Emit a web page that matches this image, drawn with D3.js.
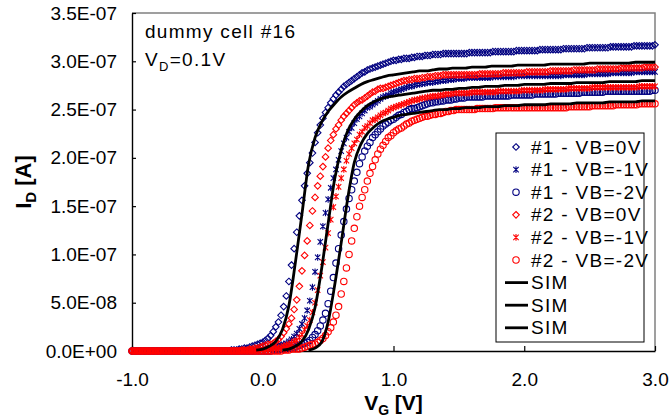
<!DOCTYPE html>
<html>
<head>
<meta charset="utf-8">
<script src="https://cdn.jsdelivr.net/npm/d3@7"></script>
<style>
body { margin: 0; background: #fff; }
svg { display: block; font-family: Arial, "Liberation Sans", sans-serif; }
</style>
</head>
<body>
<script>
// gate sweep of the measured points (V)
const vgStart = -1.0
const vgStep = 0.02
// the SIM curves come on a coarser sweep, each starting where it leaves zero
const simStarts = [-0.05, 0.15, 0.35]
const simStep = 0.05

// drain current, in units of 1e-7 A
const dev1Vb0 = [
  0,0,0,0,0,0,0,0,0,0, 0,0,0,0,0,0,0,0,0,0, 0,0,0,0,0,0,0,0,0,0,
  0,0,0,0,0,0,0,0,.01,.01,
  .01,.02,.02,.03,.03,.04,.05,.06,.07,.08,
  .09,.11,.13,.16,.20,.25,.30,.37,.46,.57,
  .72,.89,1.06,1.23,1.40,1.56,1.71,1.84,1.95,2.05,
  2.16,2.26,2.34,2.41,2.47,2.52,2.57,2.61,2.65,2.68,
  2.71,2.74,2.76,2.78,2.80,2.82,2.84,2.86,2.88,2.89,
  2.91,2.92,2.93,2.94,2.95,2.96,2.97,2.98,2.99,3.00,
  3.01,3.01,3.02,3.02,3.03,3.03,3.03,3.04,3.04,3.05,
  3.05,3.05,3.06,3.06,3.06,3.07,3.07,3.07,3.07,3.08,
  3.08,3.08,3.08,3.08,3.08,3.08,3.08,3.08,3.08,3.09,
  3.09,3.09,3.09,3.09,3.09,3.09,3.09,3.09,3.10,3.10,
  3.10,3.10,3.10,3.10,3.10,3.10,3.10,3.11,3.11,3.11,
  3.11,3.11,3.11,3.11,3.11,3.11,3.12,3.12,3.12,3.12,
  3.12,3.12,3.12,3.12,3.12,3.13,3.13,3.13,3.13,3.13,
  3.13,3.13,3.13,3.13,3.14,3.14,3.14,3.14,3.14,3.14,
  3.14,3.14,3.14,3.15,3.15,3.15,3.15,3.15,3.15,3.15,
  3.15,3.15,3.16,3.16,3.16,3.16,3.16,3.16,3.16,3.16,
  3.17
]
const dev1Vb1 = [
  0,0,0,0,0,0,0,0,0,0, 0,0,0,0,0,0,0,0,0,0, 0,0,0,0,0,0,0,0,0,0, 0,0,0,0,0,0,0,0,0,0,
  0,0,0,0,0,0,0,.01,.01,.01,
  .02,.02,.03,.03,.04,.05,.06,.06,.07,.08,
  .10,.12,.15,.18,.23,.28,.34,.42,.52,.66,
  .82,.97,1.13,1.29,1.43,1.57,1.69,1.79,1.88,1.98,
  2.07,2.15,2.21,2.27,2.31,2.36,2.40,2.43,2.46,2.49,
  2.52,2.53,2.55,2.57,2.59,2.61,2.63,2.64,2.65,2.67,
  2.68,2.69,2.70,2.71,2.72,2.73,2.74,2.74,2.75,2.76,
  2.76,2.77,2.77,2.78,2.78,2.78,2.79,2.79,2.80,2.80,
  2.80,2.81,2.81,2.81,2.82,2.82,2.82,2.82,2.83,2.83,
  2.83,2.83,2.83,2.83,2.83,2.83,2.83,2.83,2.84,2.84,
  2.84,2.84,2.84,2.84,2.84,2.84,2.84,2.85,2.85,2.85,
  2.85,2.85,2.85,2.85,2.85,2.85,2.85,2.85,2.85,2.85,
  2.85,2.85,2.85,2.85,2.85,2.86,2.86,2.86,2.86,2.86,
  2.86,2.86,2.86,2.86,2.87,2.87,2.87,2.87,2.87,2.87,
  2.87,2.87,2.87,2.88,2.88,2.88,2.88,2.88,2.88,2.88,
  2.88,2.88,2.89,2.89,2.89,2.89,2.89,2.89,2.89,2.89,
  2.89
]
const dev1Vb2 = [
  0,0,0,0,0,0,0,0,0,0, 0,0,0,0,0,0,0,0,0,0, 0,0,0,0,0,0,0,0,0,0, 0,0,0,0,0,0,0,0,0,0,
  0,0,0,0,0,0,0,0,0,0,
  0,0,0,0,.01,.01,.01,.02,.02,.03,
  .03,.03,.04,.05,.06,.07,.08,.09,.11,.14,
  .17,.21,.26,.32,.39,.49,.62,.76,.91,1.06,
  1.20,1.34,1.47,1.58,1.67,1.76,1.85,1.94,2.01,2.07,
  2.12,2.16,2.21,2.24,2.27,2.30,2.33,2.35,2.37,2.39,
  2.40,2.42,2.44,2.45,2.47,2.48,2.50,2.51,2.51,2.52,
  2.53,2.54,2.55,2.56,2.57,2.57,2.58,2.58,2.59,2.59,
  2.60,2.60,2.60,2.61,2.61,2.62,2.62,2.62,2.63,2.63,
  2.63,2.63,2.63,2.63,2.63,2.64,2.64,2.64,2.64,2.64,
  2.64,2.64,2.64,2.64,2.64,2.65,2.65,2.65,2.65,2.65,
  2.65,2.65,2.65,2.65,2.66,2.66,2.66,2.66,2.66,2.66,
  2.66,2.66,2.66,2.67,2.67,2.67,2.67,2.67,2.67,2.67,
  2.67,2.67,2.68,2.68,2.68,2.68,2.68,2.68,2.68,2.68,
  2.68,2.69,2.69,2.69,2.69,2.69,2.69,2.69,2.69,2.69,
  2.69,2.69,2.69,2.69,2.69,2.69,2.69,2.69,2.69,2.70,
  2.70
]
const dev2Vb0 = [
  0,0,0,0,0,0,0,0,0,0, 0,0,0,0,0,0,0,0,0,0, 0,0,0,0,0,0,0,0,0,0, 0,0,0,0,0,0,0,0,0,0,
  0,0,.01,.01,.01,.02,.02,.03,.03,.04,
  .05,.06,.07,.07,.08,.10,.12,.15,.19,.23,
  .28,.34,.43,.53,.67,.83,.99,1.14,1.30,1.45,
  1.59,1.71,1.81,1.91,2.01,2.10,2.18,2.24,2.30,2.34,
  2.39,2.43,2.46,2.49,2.52,2.55,2.57,2.59,2.60,2.62,
  2.64,2.66,2.68,2.69,2.71,2.72,2.72,2.73,2.74,2.75,
  2.76,2.77,2.78,2.79,2.80,2.80,2.81,2.81,2.82,2.82,
  2.82,2.83,2.83,2.84,2.84,2.84,2.85,2.85,2.85,2.86,
  2.86,2.86,2.86,2.86,2.86,2.86,2.86,2.86,2.86,2.86,
  2.86,2.86,2.86,2.87,2.87,2.87,2.87,2.87,2.87,2.87,
  2.87,2.87,2.88,2.88,2.88,2.88,2.88,2.88,2.88,2.88,
  2.88,2.89,2.89,2.89,2.89,2.89,2.89,2.89,2.89,2.89,
  2.90,2.90,2.90,2.90,2.90,2.90,2.90,2.90,2.90,2.91,
  2.91,2.91,2.91,2.91,2.91,2.91,2.91,2.91,2.92,2.92,
  2.92,2.92,2.92,2.92,2.92,2.92,2.92,2.93,2.93,2.93,
  2.93,2.93,2.93,2.93,2.93,2.93,2.94,2.94,2.94,2.94,
  2.94
]
const dev2Vb1 = [
  0,0,0,0,0,0,0,0,0,0, 0,0,0,0,0,0,0,0,0,0, 0,0,0,0,0,0,0,0,0,0, 0,0,0,0,0,0,0,0,0,0,
  0,0,0,0,0,0,0,0,0,.01,
  .01,.01,.02,.02,.03,.03,.03,.04,.05,.06,
  .07,.08,.10,.11,.14,.17,.22,.26,.32,.40,
  .50,.63,.78,.92,1.07,1.22,1.36,1.49,1.60,1.70,
  1.79,1.88,1.97,2.04,2.10,2.15,2.19,2.24,2.27,2.31,
  2.33,2.36,2.39,2.40,2.42,2.44,2.46,2.47,2.49,2.51,
  2.52,2.53,2.54,2.55,2.56,2.57,2.58,2.59,2.60,2.60,
  2.61,2.62,2.62,2.63,2.63,2.64,2.64,2.64,2.65,2.65,
  2.66,2.66,2.66,2.67,2.67,2.67,2.67,2.67,2.67,2.67,
  2.68,2.68,2.68,2.68,2.68,2.68,2.68,2.68,2.68,2.68,
  2.69,2.69,2.69,2.69,2.69,2.69,2.69,2.69,2.69,2.70,
  2.70,2.70,2.70,2.70,2.70,2.70,2.70,2.70,2.71,2.71,
  2.71,2.71,2.71,2.71,2.71,2.71,2.71,2.72,2.72,2.72,
  2.72,2.72,2.72,2.72,2.72,2.72,2.73,2.73,2.73,2.73,
  2.73,2.73,2.73,2.73,2.73,2.73,2.73,2.73,2.73,2.73,
  2.73,2.73,2.73,2.73,2.74,2.74,2.74,2.74,2.74,2.74,
  2.74
]
const dev2Vb2 = [
  0,0,0,0,0,0,0,0,0,0, 0,0,0,0,0,0,0,0,0,0, 0,0,0,0,0,0,0,0,0,0, 0,0,0,0,0,0,0,0,0,0,
  0,0,0,0,0,0,0,0,0,0,
  0,0,0,0,0,0,0,0,.01,.01,
  .01,.02,.02,.02,.02,.03,.04,.05,.06,.07,
  .07,.09,.11,.13,.16,.20,.24,.30,.37,.46,
  .59,.72,.86,1.00,1.14,1.27,1.39,1.50,1.59,1.67,
  1.76,1.84,1.91,1.98,2.04,2.09,2.13,2.17,2.21,2.23,
  2.26,2.28,2.30,2.31,2.33,2.35,2.36,2.38,2.39,2.40,
  2.41,2.42,2.43,2.43,2.44,2.45,2.45,2.46,2.46,2.47,
  2.48,2.48,2.49,2.49,2.50,2.50,2.50,2.50,2.50,2.50,
  2.50,2.50,2.51,2.51,2.51,2.51,2.51,2.51,2.51,2.52,
  2.52,2.52,2.52,2.52,2.52,2.52,2.52,2.52,2.52,2.52,
  2.52,2.52,2.52,2.52,2.52,2.52,2.52,2.52,2.52,2.52,
  2.52,2.52,2.52,2.52,2.52,2.52,2.52,2.53,2.53,2.53,
  2.53,2.53,2.53,2.53,2.53,2.53,2.54,2.54,2.54,2.54,
  2.54,2.54,2.54,2.54,2.54,2.55,2.55,2.55,2.55,2.55,
  2.55,2.55,2.55,2.55,2.56,2.56,2.56,2.56,2.56,2.56,
  2.56
]

// simulated curves, same units, on the 0.05 V sweep
const sim1 = [
  .01,
  .02,.05,.10,.22,.47,.92,1.42,1.93,2.21,2.37,
  2.48,2.56,2.63,2.68,2.72,2.76,2.79,2.81,2.83,2.85,
  2.86,2.87,2.88,2.89,2.90,2.90,2.91,2.92,2.92,2.93,
  2.93,2.93,2.94,2.94,2.94,2.95,2.95,2.95,2.95,2.96,
  2.96,2.96,2.96,2.96,2.97,2.97,2.97,2.97,2.97,2.97,
  2.98,2.98,2.98,2.98,2.98,2.98,2.98,2.99,2.99,2.99,
  2.99
]
const sim2 = [
  .01,.02,.05,.10,.22,.45,.85,
  1.32,1.78,2.08,2.28,2.40,2.48,2.54,2.58,2.61,2.63,
  2.64,2.65,2.66,2.67,2.68,2.69,2.70,2.70,2.71,2.71,
  2.72,2.72,2.73,2.73,2.74,2.74,2.74,2.75,2.75,2.75,
  2.76,2.76,2.76,2.76,2.77,2.77,2.77,2.77,2.78,2.78,
  2.78,2.78,2.78,2.79,2.79,2.79,2.79,2.79,2.80,2.80,
  2.80
]
const sim3 = [
  .01,.03,.09,
  .30,.68,1.12,1.58,1.95,2.14,2.25,2.32,2.37,2.40,
  2.42,2.44,2.45,2.46,2.47,2.48,2.49,2.50,2.50,2.51,
  2.51,2.52,2.52,2.52,2.53,2.53,2.53,2.54,2.54,2.54,
  2.55,2.55,2.55,2.55,2.56,2.56,2.56,2.56,2.57,2.57,
  2.57,2.57,2.57,2.58,2.58,2.58,2.58,2.58,2.59,2.59,
  2.59
]

const measuredNames = ["#1 - VB=0V", "#1 - VB=-1V", "#1 - VB=-2V", "#2 - VB=0V", "#2 - VB=-1V", "#2 - VB=-2V"]
const simNames = ["SIM", "SIM", "SIM"]

const xTicks = [-1, 0, 1, 2, 3]
const xTickLabels = ["-1.0", "0.0", "1.0", "2.0", "3.0"]
const yTicks = [0, 0.5, 1, 1.5, 2, 2.5, 3, 3.5]
const yTickLabels = ["0.0E+00", "5.0E-08", "1.0E-07", "1.5E-07", "2.0E-07", "2.5E-07", "3.0E-07", "3.5E-07"]

const width = 669
const height = 418
const plot = {left: 132, right: 655, top: 13, bottom: 351}

const blue = "#000080"
const red = "#ff0000"

const markerPath = {
    diamond: "M0,-3.3L3.3,0L0,3.3L-3.3,0Z",
    star: "M-2.7,-2.7L2.7,2.7M-2.7,2.7L2.7,-2.7M0,-3.4V3.4",
    circle: d3.symbol(d3.symbolCircle, Math.PI * 3.2 * 3.2)()
}

const measured = [
    {values: dev1Vb0, color: blue, shape: "diamond"},
    {values: dev1Vb1, color: blue, shape: "star"},
    {values: dev1Vb2, color: blue, shape: "circle"},
    {values: dev2Vb0, color: red, shape: "diamond"},
    {values: dev2Vb1, color: red, shape: "star"},
    {values: dev2Vb2, color: red, shape: "circle"}
].map((s, i) => ({...s, name: measuredNames[i]}))
const sims = [sim1, sim2, sim3]

const x = d3.scaleLinear().domain([-1, 3]).range([plot.left, plot.right])
const y = d3.scaleLinear().domain([0, 3.5]).range([plot.bottom, plot.top])

const svg = d3.select("body").append("svg")
    .attr("width", width)
    .attr("height", height)

// frame: grey top and right edges
svg.append("path")
    .attr("d", `M${plot.left},${plot.top}H${plot.right}V${plot.bottom}`)
    .attr("fill", "none")
    .attr("stroke", "#808080")
    .attr("stroke-width", 1.5)

const xAxis = svg.append("g")
    .attr("transform", `translate(0,${plot.bottom})`)
    .call(d3.axisBottom(x).tickValues(xTicks).tickFormat((d, i) => xTickLabels[i])
        .tickSizeInner(-5).tickSizeOuter(0).tickPadding(22))
const yAxis = svg.append("g")
    .attr("transform", `translate(${plot.left},0)`)
    .call(d3.axisLeft(y).tickValues(yTicks).tickFormat((d, i) => yTickLabels[i])
        .tickSizeInner(-4).tickSizeOuter(0).tickPadding(15))

;[xAxis, yAxis].forEach(a => {
    a.select(".domain").attr("stroke", "#000").attr("stroke-width", 1.4)
    a.selectAll(".tick line").attr("stroke", "#000").attr("stroke-width", 1.2)
    a.selectAll(".tick text").attr("fill", "#000").style("font-size", "19px")
        .style("font-family", "Arial, 'Liberation Sans', sans-serif")
})

// measured points
measured.forEach(s => {
    svg.append("g")
        .selectAll("path")
        .data(s.values)
        .join("path")
        .attr("d", markerPath[s.shape])
        .attr("transform", (d, i) => `translate(${x(vgStart + i * vgStep)},${y(d)})`)
        .attr("fill", "none")
        .attr("stroke", s.color)
        .attr("stroke-width", 1.1)
})

// simulation lines
sims.forEach((s, j) => {
    const simLine = d3.line()
        .x((d, i) => x(simStarts[j] + i * simStep))
        .y(d => y(d))
        .curve(d3.curveMonotoneX)
    svg.append("path")
        .attr("d", simLine(s))
        .attr("fill", "none")
        .attr("stroke", "#000")
        .attr("stroke-width", 2.8)
})

// annotation
const note = svg.append("g").style("font-size", "19px").style("letter-spacing", "1.3px")
note.append("text").attr("x", 145).attr("y", 38).text("dummy cell #16")
const vd = note.append("text").attr("x", 145).attr("y", 66)
vd.append("tspan").text("V")
vd.append("tspan").attr("dy", 5).style("font-size", "13px").text("D")
vd.append("tspan").attr("dy", -5).text("=0.1V")

// legend
const legend = svg.append("g")
legend.append("rect")
    .attr("x", 496).attr("y", 133)
    .attr("width", 148).attr("height", 209)
    .attr("fill", "#fff")
    .attr("stroke", "#000")
    .attr("stroke-width", 1)
const rowY = i => 147 + i * 22.6
const legendText = (i, label) => legend.append("text")
    .attr("x", 531).attr("y", rowY(i) + 6.5)
    .style("font-size", "19px")
    .style("letter-spacing", "1.3px")
    .text(label)
measured.forEach((s, i) => {
    legend.append("path")
        .attr("d", markerPath[s.shape])
        .attr("transform", `translate(516,${rowY(i)})`)
        .attr("fill", "none")
        .attr("stroke", s.color)
        .attr("stroke-width", 1.1)
    legendText(i, s.name)
})
simNames.forEach((name, j) => {
    const i = measured.length + j
    legend.append("line")
        .attr("x1", 505).attr("x2", 528)
        .attr("y1", rowY(i)).attr("y2", rowY(i))
        .attr("stroke", "#000")
        .attr("stroke-width", 2.8)
    legendText(i, name)
})

// axis titles
const xt = svg.append("text")
    .attr("x", (plot.left + plot.right) / 2).attr("y", 410)
    .attr("text-anchor", "middle")
    .style("font-size", "21px").style("font-weight", "bold")
xt.append("tspan").text("V")
xt.append("tspan").attr("dy", 5).style("font-size", "14px").text("G")
xt.append("tspan").attr("dy", -5).text(" [V]")

const yt = svg.append("text")
    .attr("transform", `translate(31,${(plot.top + plot.bottom) / 2}) rotate(-90)`)
    .attr("text-anchor", "middle")
    .style("font-size", "22px").style("font-weight", "bold")
yt.append("tspan").text("I")
yt.append("tspan").attr("dy", 5).style("font-size", "15px").text("D")
yt.append("tspan").attr("dy", -5).text(" [A]")
</script>
</body>
</html>
